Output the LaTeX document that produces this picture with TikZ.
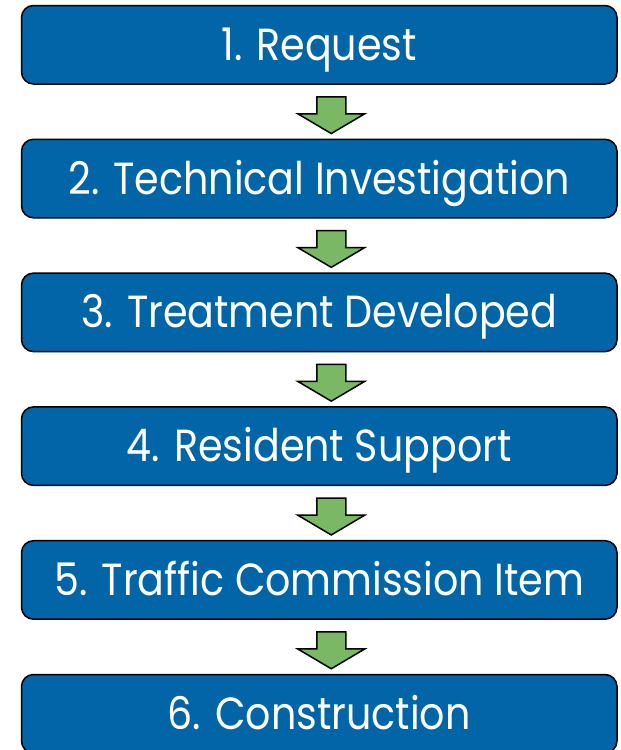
\documentclass[tikz,border=0pt]{standalone}
\usepackage{fontspec}
\setmainfont{Poppins}[FakeStretch=0.88]
\usetikzlibrary{calc}
\definecolor{stepblue}{RGB}{1,101,168}
\definecolor{stepgreen}{RGB}{122,184,102}
\tikzset{
  stepbox/.style={draw=black, line width=1.5pt, fill=stepblue, rounded corners=12pt,
    minimum width=595.5pt, minimum height=78.5pt, inner sep=0pt,
    text height=31pt, text depth=0pt,
    text=white, font=\fontsize{45}{50}\selectfont},
  flowarrow/.style={draw=black, line width=1.5pt, fill=stepgreen, line join=miter},
}
% block arrow pointing down from box #1 to box #2
\newcommand\flowdown[2]{%
  \draw[flowarrow] let \p1=(#1.south), \p2=(#2.north) in
    (\x1+12pt-14.5pt, \y1-12pt) -- (\x1+12pt+14.5pt, \y1-12pt)
    -- (\x1+12pt+14.5pt, \y1-29pt) -- (\x1+12pt+33.5pt, \y1-29pt)
    -- (\x1+12pt, \y2+5pt) -- (\x1+12pt-33.5pt, \y1-29pt)
    -- (\x1+12pt-14.5pt, \y1-29pt) -- cycle;}
\begin{document}
\begin{tikzpicture}[x=1pt, y=-1pt]
  \useasboundingbox (0,0) rectangle (621,750);
  \node[stepbox] (s1) at (319.25, 44.75) {1. Request};
  \node[stepbox] (s2) at (319.25, 178.55) {2. Technical Investigation};
  \node[stepbox] (s3) at (319.25, 312.35) {3. Treatment Developed};
  \node[stepbox] (s4) at (319.25, 446.15) {4. Resident Support};
  \node[stepbox] (s5) at (319.25, 579.95) {5. Traffic Commission Item};
  \node[stepbox] (s6) at (319.25, 713.75) {6. Construction};
  \flowdown{s1}{s2}
  \flowdown{s2}{s3}
  \flowdown{s3}{s4}
  \flowdown{s4}{s5}
  \flowdown{s5}{s6}
\end{tikzpicture}
\end{document}
